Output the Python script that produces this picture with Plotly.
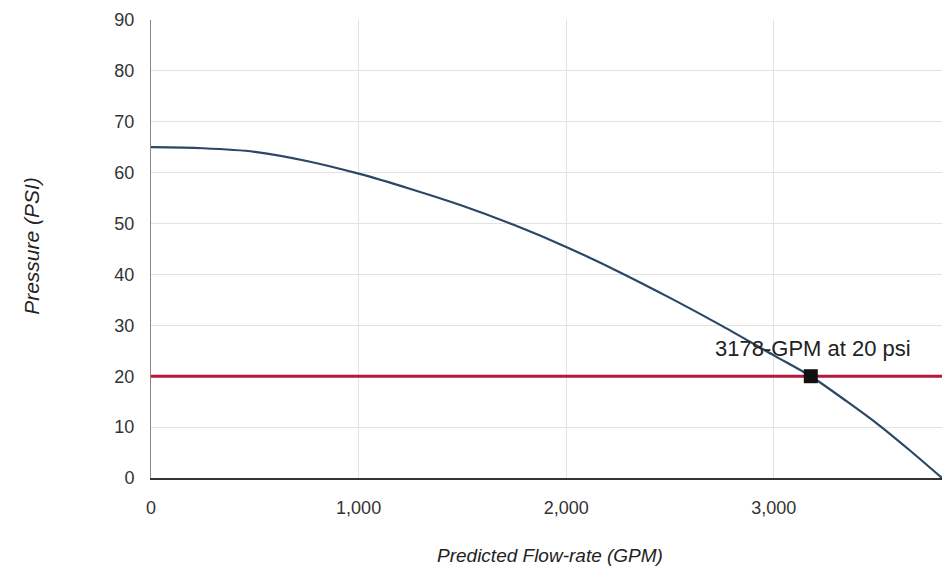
import plotly.graph_objects as go

# Pump curve: predicted flow-rate (GPM) vs. pressure (PSI)
flow_gpm = [0, 250, 500, 750, 1000, 1250, 1500, 1750, 2000, 2250, 2500, 2750, 3000, 3178, 3350, 3500, 3650, 3810]
pressure_psi = [65, 64.8, 64.1, 62.3, 59.8, 56.8, 53.5, 49.7, 45.4, 40.6, 35.4, 29.9, 24.1, 20.0, 15.1, 10.6, 5.6, 0]

# Residual pressure line
residual_psi = 20
x_extent = [0, 3810]

# Operating point
op_flow = [3178]
op_pressure = [20]
op_label = "3178-GPM at 20 psi"

x_ticks = [0, 1000, 2000, 3000]
x_tick_text = ["0", "1,000", "2,000", "3,000"]
y_ticks = [0, 10, 20, 30, 40, 50, 60, 70, 80, 90]

font_family = "Liberation Sans, Arial, sans-serif"

fig = go.Figure()

fig.add_trace(go.Scatter(
    x=x_extent, y=[residual_psi, residual_psi], mode="lines",
    line=dict(color="#b8163c", width=3), hoverinfo="skip", showlegend=False,
))

fig.add_trace(go.Scatter(
    x=flow_gpm, y=pressure_psi, mode="lines",
    line=dict(color="#2b4766", width=2.2, shape="spline", smoothing=0.8),
    showlegend=False,
))

fig.add_trace(go.Scatter(
    x=op_flow, y=op_pressure, mode="markers",
    marker=dict(symbol="square", size=14, color="#111111"),
    showlegend=False,
))

fig.add_annotation(
    x=op_flow[0], y=op_pressure[0], text=op_label, showarrow=False,
    yshift=28, xshift=2, font=dict(family=font_family, size=22, color="#222222"),
)

fig.add_annotation(
    xref="paper", yref="paper", x=-0.168, y=0.506, text="<i>Pressure (PSI)</i>",
    textangle=-90, showarrow=False,
    font=dict(family=font_family, size=21, color="#222222"),
)
fig.add_annotation(
    xref="paper", yref="paper", x=0.504, y=-0.197, text="<i>Predicted Flow-rate (GPM)</i>",
    showarrow=False, font=dict(family=font_family, size=19, color="#222222"),
)

fig.update_layout(
    width=942, height=582,
    margin=dict(l=151, r=0, t=20, b=104),
    paper_bgcolor="white", plot_bgcolor="white",
    font=dict(family=font_family, color="#333333"),
)

fig.update_xaxes(
    range=x_extent, tickvals=x_ticks, ticktext=x_tick_text,
    showgrid=True, gridcolor="#e2e2e2", gridwidth=1,
    zeroline=False, showline=True, linecolor="#333333", linewidth=2,
    ticks="outside", ticklen=12, tickcolor="rgba(0,0,0,0)",
    tickfont=dict(size=18, color="#333333"),
)
fig.update_yaxes(
    range=[0, 90], tickvals=y_ticks,
    showgrid=True, gridcolor="#e2e2e2", gridwidth=1,
    zeroline=False, showline=True, linecolor="#888888", linewidth=1,
    ticks="outside", ticklen=12, tickcolor="rgba(0,0,0,0)",
    tickfont=dict(size=18, color="#333333"),
)

fig.write_html("out.html")
